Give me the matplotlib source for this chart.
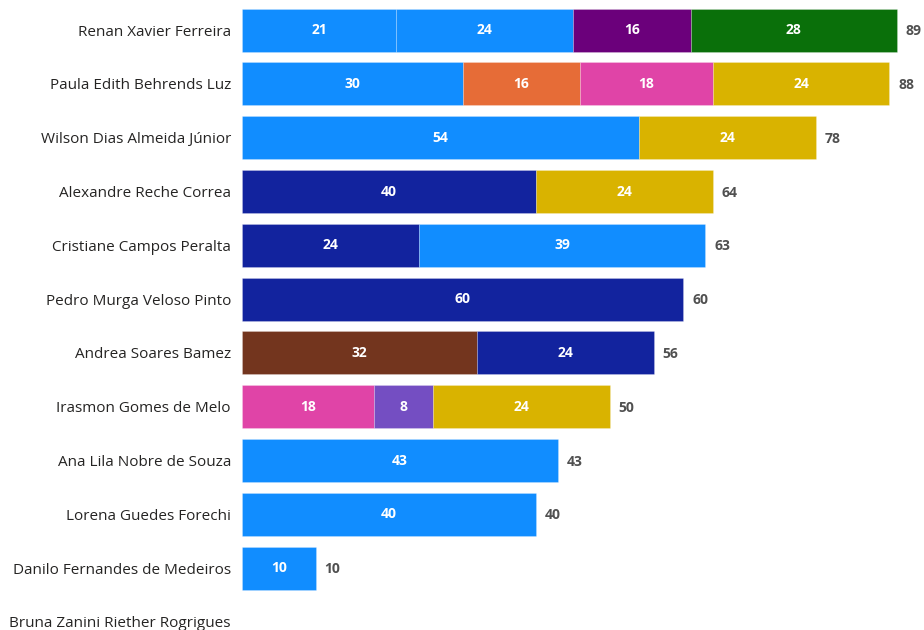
import matplotlib
matplotlib.use("Agg")
import matplotlib.pyplot as plt

names = [
    "Renan Xavier Ferreira",
    "Paula Edith Behrends Luz",
    "Wilson Dias Almeida Júnior",
    "Alexandre Reche Correa",
    "Cristiane Campos Peralta",
    "Pedro Murga Veloso Pinto",
    "Andrea Soares Bamez",
    "Irasmon Gomes de Melo",
    "Ana Lila Nobre de Souza",
    "Lorena Guedes Forechi",
    "Danilo Fernandes de Medeiros",
    "Bruna Zanini Riether Rogrigues",
]

# segment values per person (left to right)
values = [
    [21, 24, 16, 28],
    [30, 16, 18, 24],
    [54, 24],
    [40, 24],
    [24, 39],
    [60],
    [32, 24],
    [18, 8, 24],
    [43],
    [40],
    [10],
    [],
]

# series group of each segment
groups = [
    ["g1", "g1", "g4", "g10"],
    ["g1", "g3", "g5", "g7"],
    ["g1", "g7"],
    ["g2", "g7"],
    ["g2", "g1"],
    ["g2"],
    ["g11", "g2"],
    ["g5", "g6", "g7"],
    ["g1"],
    ["g1"],
    ["g1"],
    [],
]

colors = {
    "g1": "#118DFF",
    "g2": "#12239E",
    "g3": "#E66C37",
    "g4": "#6B007B",
    "g5": "#E044A7",
    "g6": "#744EC2",
    "g7": "#D9B300",
    "g10": "#0A700A",
    "g11": "#73351E",
}

plt.rcParams["font.family"] = ["Open Sans", "DejaVu Sans"]

fig = plt.figure(figsize=(9.24, 6.3), dpi=100)
ax = fig.add_axes([242 / 924, 0, 1 - 242 / 924, 1])

for i, (vals, grp) in enumerate(zip(values, groups)):
    left = 0
    for v, g in zip(vals, grp):
        ax.barh(i, v, left=left, height=0.8, color=colors[g],
                edgecolor=(1, 1, 1, 0.25), linewidth=0.6)
        ax.text(left + v / 2, i, str(v), ha="center", va="center",
                color="white", fontsize=10, fontweight="bold")
        left += v
    if vals:
        ax.text(left + 1.2, i + 0.02, str(left), ha="left", va="center",
                color="#505050", fontsize=10, fontweight="bold")

ax.set_xlim(0, 92.7)
ax.set_ylim(11.15, -0.56)
ax.set_yticks(range(len(names)))
ax.set_yticklabels(names, fontsize=11, color="#252423")
ax.tick_params(axis="y", length=0, pad=8)
ax.set_xticks([])
for s in ax.spines.values():
    s.set_visible(False)

fig.savefig("out.png", dpi=100)
